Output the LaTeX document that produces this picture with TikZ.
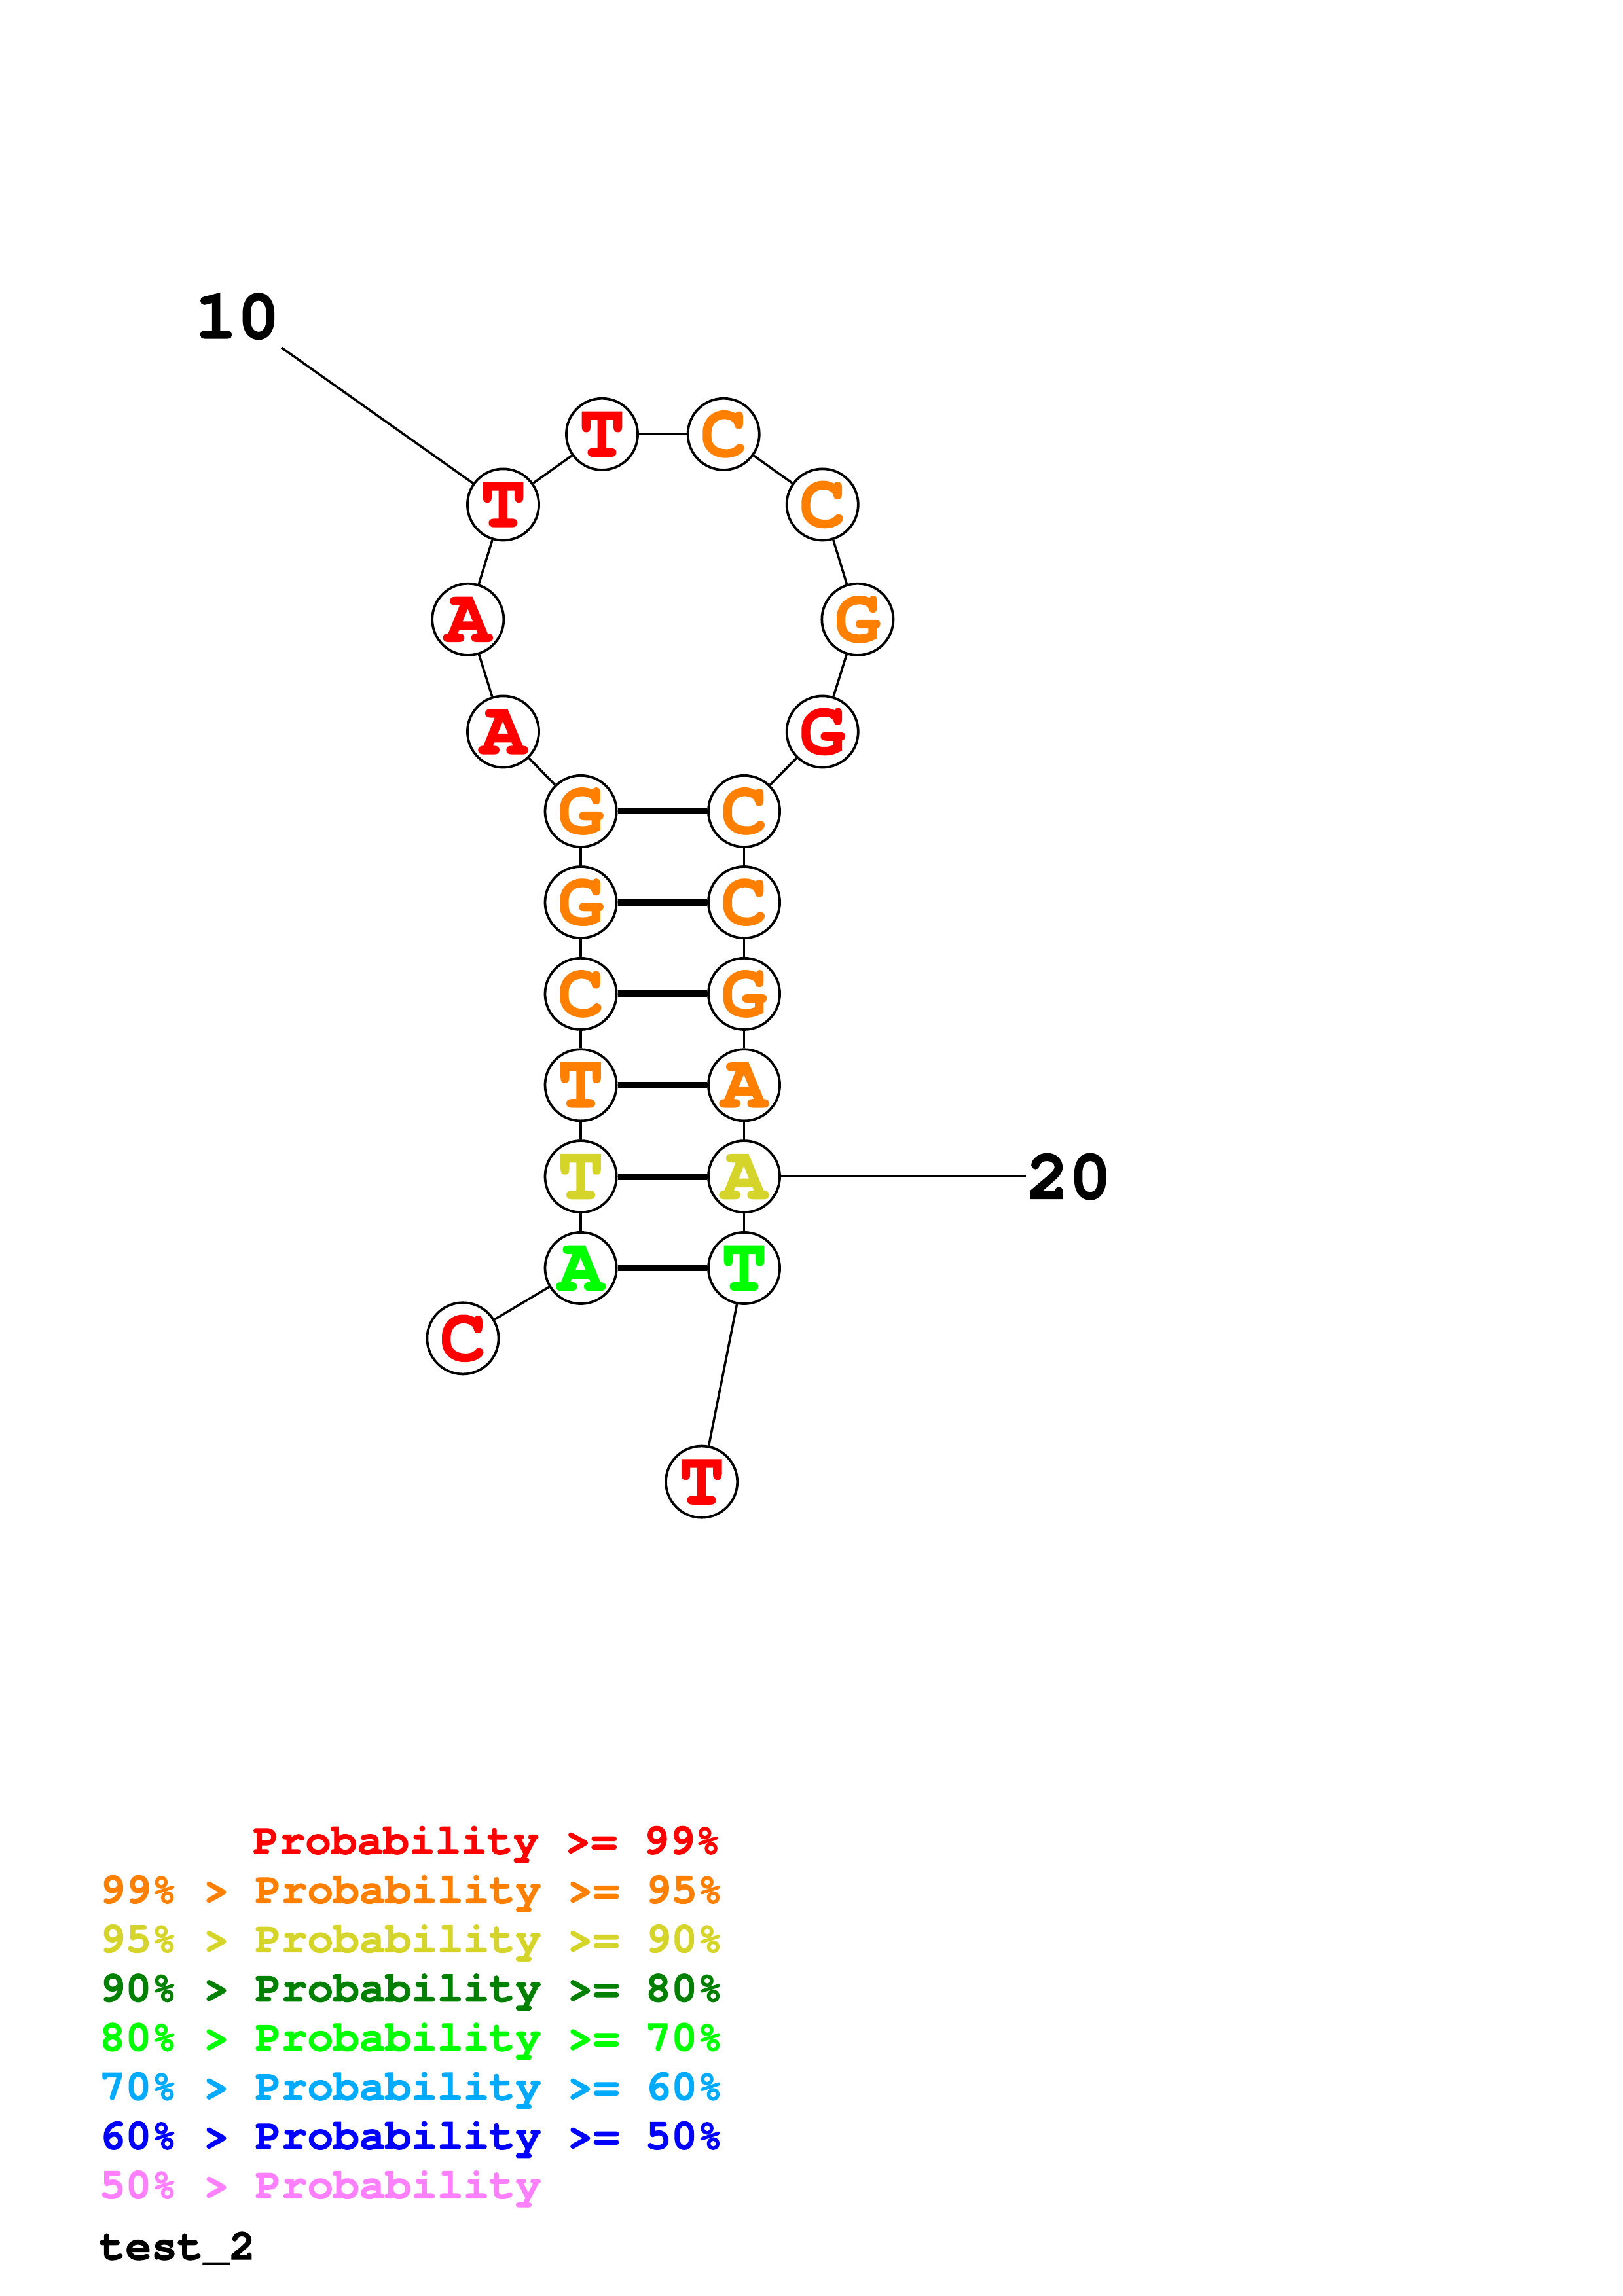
\documentclass[tikz,border=0pt]{standalone}
\usepackage{fontspec}
\setmonofont{TeX Gyre Cursor}[BoldFeatures={FakeBold=1.5}]
\usepackage{xcolor}
\usepackage{tikz}

\definecolor{pr99}{HTML}{FF0000}
\definecolor{pr95}{HTML}{FF8000}
\definecolor{pr90}{HTML}{D4D42A}
\definecolor{pr80}{HTML}{008000}
\definecolor{pr70}{HTML}{00FF00}
\definecolor{pr60}{HTML}{00AAFF}
\definecolor{pr50}{HTML}{0000FF}
\definecolor{pr00}{HTML}{FF80FF}

\begin{document}
\begin{tikzpicture}[
  x=0.18953mm, y=-0.18953mm,
  nt/.style={draw, circle, fill=white, line width=0.9pt, minimum size=9.25mm, inner sep=0pt, font=\fontsize{28}{28}\ttfamily\bfseries},
  bb/.style={line width=0.85pt},
  bp/.style={line width=2.4pt},
  poslabel/.style={font=\fontsize{26}{26}\ttfamily\bfseries},
  probkey/.style={anchor=base west, inner sep=0pt, font=\fontsize{15.95}{15.95}\ttfamily\bfseries},
]
\useasboundingbox (0,0) rectangle (1108,1568);

% bases
\node[nt, text=pr99] (b1) at (316,914) {C};
\node[nt, text=pr70] (b2) at (396.5,866) {A};
\node[nt, text=pr90] (b3) at (396.5,803.5) {T};
\node[nt, text=pr95] (b4) at (396.5,741) {T};
\node[nt, text=pr95] (b5) at (396.5,678.7) {C};
\node[nt, text=pr95] (b6) at (396.5,616.2) {G};
\node[nt, text=pr95] (b7) at (396.5,554) {G};
\node[nt, text=pr99] (b8) at (343.5,499.7) {A};
\node[nt, text=pr99] (b9) at (319.5,423) {A};
\node[nt, text=pr99] (b10) at (343.5,344.6) {T};
\node[nt, text=pr99] (b11) at (411,296.5) {T};
\node[nt, text=pr95] (b12) at (494,296.5) {C};
\node[nt, text=pr95] (b13) at (561.5,344.6) {C};
\node[nt, text=pr95] (b14) at (585.5,423) {G};
\node[nt, text=pr99] (b15) at (561.5,499.7) {G};
\node[nt, text=pr95] (b16) at (508,554) {C};
\node[nt, text=pr95] (b17) at (508,616.2) {C};
\node[nt, text=pr95] (b18) at (508,678.7) {G};
\node[nt, text=pr95] (b19) at (508,741) {A};
\node[nt, text=pr90] (b20) at (508,803.5) {A};
\node[nt, text=pr70] (b21) at (508,866) {T};
\node[nt, text=pr99] (b22) at (479,1012) {T};

% backbone and pairs
\foreach \i [count=\j from 2] in {1,...,21}
  \draw[bb] (b\i) -- (b\j);
\foreach \a/\b in {2/21, 3/20, 4/19, 5/18, 6/17, 7/16}
  \draw[bp] (b\a) -- (b\b);

% position labels
\node[poslabel, inner sep=1mm] (l10) at (162,216) {10};
\draw[bb] (b10) -- (l10);
\node[poslabel, anchor=west, inner sep=0pt] (l20) at (700.5,803.5) {20};
\draw[bb] (b20) -- (l20);

% key
\node[probkey, text=pr99] (k99) at (172.5,1266) {Probability >= 99\%};
\node[probkey, text=pr95] (k95) at (67.5,1299.6) {99\% > Probability >= 95\%};
\node[probkey, text=pr90] (k90) at (67.5,1333.2) {95\% > Probability >= 90\%};
\node[probkey, text=pr80] (k80) at (67.5,1366.8) {90\% > Probability >= 80\%};
\node[probkey, text=pr70] (k70) at (67.5,1400.4) {80\% > Probability >= 70\%};
\node[probkey, text=pr60] (k60) at (67.5,1434) {70\% > Probability >= 60\%};
\node[probkey, text=pr50] (k50) at (67.5,1467.6) {60\% > Probability >= 50\%};
\node[probkey, text=pr00] (k00) at (67.5,1501.2) {50\% > Probability};
\node[probkey] (title) at (67.5,1543) {test\_2};
\end{tikzpicture}
\end{document}
